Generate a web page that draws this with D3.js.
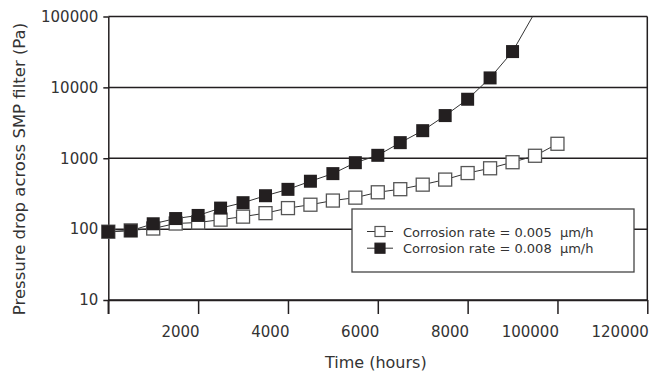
<!DOCTYPE html>
<html>
<head>
<meta charset="utf-8">
<script src="https://cdn.jsdelivr.net/npm/d3@7"></script>
<style>
    body { margin: 0; background: #fff; }
    svg { display: block; font-family: "DejaVu Sans", sans-serif; }
    .legend text { white-space: pre; }
</style>
</head>
<body>
<svg id="chart" width="649" height="376"></svg>
<script>
// time in hours, one point every 500 h
const hours = [0, 500, 1000, 1500, 2000, 2500, 3000, 3500, 4000, 4500, 5000,
    5500, 6000, 6500, 7000, 7500, 8000, 8500, 9000, 9500, 10000]

// pressure drop (Pa), corrosion rate 0.005 um/h
const rateLow = [92, 96, 102, 120, 124, 136, 150, 168, 198, 221, 253,
    278, 331, 366, 424, 500, 618, 722, 879, 1084, 1600]

// pressure drop (Pa), corrosion rate 0.008 um/h (runs off the top after 9000 h)
const rateHigh = [92, 95, 119, 141, 156, 198, 236, 296, 364, 474, 607,
    866, 1100, 1660, 2450, 4000, 6800, 13600, 32000, 115000]

const xTicks = [0, 2000, 4000, 6000, 8000, 10000, 12000]
const xTickLabels = ["", "2000", "4000", "6000", "8000", "100000", "120000"]
const yTicks = [10, 100, 1000, 10000, 100000]
const yTickLabels = ["10", "100", "1000", "10000", "100000"]

const seriesNames = ["Corrosion rate = 0.005  \u03bcm/h", "Corrosion rate = 0.008  \u03bcm/h"]

const ink = "#231f20"
const markerSize = 13

var svg = d3.select("#chart")

var x = d3.scaleLinear().domain([0, 12000]).range([108.3, 647.3])
var y = d3.scaleLog().domain([10, 100000]).range([300, 16.5])

// plot edges (window.top is taken, so prefix them)
var plotLeft = x(0), plotRight = x(12000), plotTop = y(100000), plotBottom = y(10)

svg.append("defs").append("clipPath")
    .attr("id", "plotClip")
    .append("rect")
    .attr("x", plotLeft - 10)
    .attr("y", plotTop)
    .attr("width", plotRight - plotLeft + 20)
    .attr("height", plotBottom - plotTop + 10)

// horizontal grid lines, one per decade
svg.append("g")
    .selectAll("line")
    .data(yTicks)
    .enter().append("line")
    .attr("x1", plotLeft)
    .attr("x2", plotRight)
    .attr("y1", d => y(d))
    .attr("y2", d => y(d))
    .attr("stroke", ink)
    .attr("stroke-width", 1.5)

// right border
svg.append("line")
    .attr("x1", plotRight).attr("x2", plotRight)
    .attr("y1", plotTop).attr("y2", plotBottom)
    .attr("stroke", ink)
    .attr("stroke-width", 1.5)

var xAxis = svg.append("g")
    .attr("transform", "translate(0," + plotBottom + ")")
    .call(d3.axisBottom(x)
        .tickValues(xTicks)
        .tickFormat((d, i) => xTickLabels[i])
        .tickSizeInner(14)
        .tickSizeOuter(0)
        .tickPadding(8))

xAxis.selectAll("text")
    .attr("text-anchor", "end")
    .attr("x", 1)
    .attr("y", 37)
    .attr("dy", 0)

var yAxis = svg.append("g")
    .attr("transform", "translate(" + plotLeft + ",0)")
    .call(d3.axisLeft(y)
        .tickValues(yTicks)
        .tickFormat((d, i) => yTickLabels[i])
        .tickSizeInner(5)
        .tickSizeOuter(0)
        .tickPadding(5))

// y axis line continues down to the first x tick
yAxis.append("line")
    .attr("x1", 0).attr("x2", 0)
    .attr("y1", plotBottom).attr("y2", plotBottom + 14)

svg.selectAll(".domain, .tick line, g > line")
    .attr("stroke", ink)
    .attr("stroke-width", 1.5)

svg.selectAll(".tick text")
    .attr("font-size", 15)
    .attr("font-family", "DejaVu Sans, sans-serif")
    .attr("fill", "#333")

// axis titles
svg.append("text")
    .attr("x", x(6000) - 2)
    .attr("y", 368)
    .attr("text-anchor", "middle")
    .attr("font-size", 16)
    .attr("fill", "#333")
    .text("Time (hours)")

svg.append("text")
    .attr("transform", "translate(25,169) rotate(-90)")
    .attr("text-anchor", "middle")
    .attr("font-size", 16.5)
    .attr("fill", "#333")
    .text("Pressure drop across SMP filter (Pa)")

var line = d3.line()
    .x(d => x(d[0]))
    .y(d => y(d[1]))

var low = rateLow.map((v, i) => [hours[i], v])
var high = rateHigh.map((v, i) => [hours[i], v])

// markers only for points inside the y range
var inRange = d => d[1] <= y.domain()[1]

var plot = svg.append("g").attr("clip-path", "url(#plotClip)")

plot.append("path")
    .datum(low)
    .attr("d", line)
    .attr("fill", "none")
    .attr("stroke", "#333")
    .attr("stroke-width", 1)

plot.append("path")
    .datum(high)
    .attr("d", line)
    .attr("fill", "none")
    .attr("stroke", "#333")
    .attr("stroke-width", 1)

plot.append("g")
    .selectAll("rect")
    .data(low.filter(inRange))
    .enter().append("rect")
    .attr("x", d => x(d[0]) - markerSize / 2)
    .attr("y", d => y(d[1]) - markerSize / 2)
    .attr("width", markerSize)
    .attr("height", markerSize)
    .attr("fill", "#fff")
    .attr("stroke", "#555")
    .attr("stroke-width", 1.3)

plot.append("g")
    .selectAll("rect")
    .data(high.filter(inRange))
    .enter().append("rect")
    .attr("x", d => x(d[0]) - markerSize / 2)
    .attr("y", d => y(d[1]) - markerSize / 2)
    .attr("width", markerSize)
    .attr("height", markerSize)
    .attr("fill", ink)

// legend box
var legend = svg.append("g").attr("class", "legend")

legend.append("rect")
    .attr("x", 352)
    .attr("y", 209)
    .attr("width", 282)
    .attr("height", 63)
    .attr("fill", "#fff")
    .attr("stroke", "#444")
    .attr("stroke-width", 1.3)

var rows = legend.selectAll(".row")
    .data(seriesNames)
    .enter().append("g")
    .attr("class", "row")
    .attr("transform", (d, i) => "translate(0," + (231.5 + i * 16.7) + ")")

rows.append("line")
    .attr("x1", 367).attr("x2", 393)
    .attr("y1", 0).attr("y2", 0)
    .attr("stroke", "#333")
    .attr("stroke-width", 1)

rows.append("rect")
    .attr("x", 375)
    .attr("y", -5)
    .attr("width", 10)
    .attr("height", 10)
    .attr("fill", (d, i) => i == 0 ? "#fff" : ink)
    .attr("stroke", (d, i) => i == 0 ? "#555" : ink)
    .attr("stroke-width", 1.2)

rows.append("text")
    .attr("x", 403)
    .attr("y", 5)
    .attr("font-size", 13)
    .attr("fill", "#333")
    .text(d => d)
</script>
</body>
</html>
